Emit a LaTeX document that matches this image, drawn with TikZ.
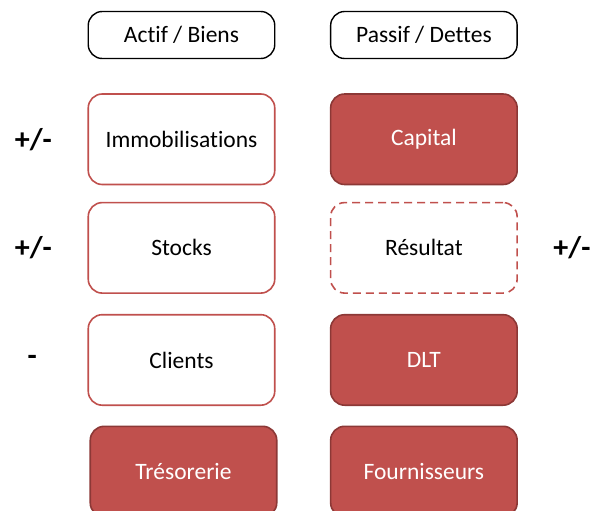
\documentclass[tikz,border=0pt]{standalone}
\usepackage{fontspec}
\setmainfont{Carlito}[Ligatures=NoCommon]
\usetikzlibrary{positioning}

\definecolor{bilanred}{HTML}{C0504D}
\definecolor{bilandark}{HTML}{8C3836}

\tikzset{
  poste/.style={rounded corners=14pt, minimum width=186.5pt, minimum height=90.5pt,
    line width=1.6pt, font=\fontsize{23.5}{27}\selectfont},
  titre/.style={poste, draw=black, minimum height=47pt, line width=1.4pt},
  posteactif/.style={poste, draw=bilanred, fill=white},
  postepassif/.style={poste, draw=bilandark, fill=bilanred, text=white},
  postevar/.style={poste, draw=bilanred, dash pattern=on 8pt off 5pt},
  signe/.style={font=\bfseries\fontsize{30}{32}\selectfont},
}

\begin{document}
\begin{tikzpicture}
  \useasboundingbox (0,0) rectangle (592pt,-511pt);
  % colonnes
  \node [titre] (actif) at (181.5pt,-35pt) {Actif / Biens};
  \node [titre, right=54.5pt of actif] (passif) {Passif / Dettes};

  \node [posteactif, below=34pt of actif] (immo) {Immobilisations};
  \node [posteactif, below=16.5pt of immo] (stocks) {Stocks};
  \node [posteactif, below=20pt of stocks] (clients) {Clients};
  \node [postepassif, below=19.5pt of clients, xshift=2pt] (treso) {Trésorerie};

  \node [postepassif, below=34pt of passif] (capital) {Capital};
  \node [postevar, below=16.5pt of capital] (resultat) {Résultat};
  \node [postepassif, below=20pt of resultat] (dlt) {DLT};
  \node [postepassif, below=19.5pt of dlt] (fourn) {Fournisseurs};

  % variations
  \node [signe, left=32pt of immo] (s1) {+/-};
  \node [signe, left=32pt of stocks] (s2) {+/-};
  \node [signe, left=47pt of clients] (s3) {-};
  \node [signe, right=32pt of resultat] (s4) {+/-};
\end{tikzpicture}
\end{document}
